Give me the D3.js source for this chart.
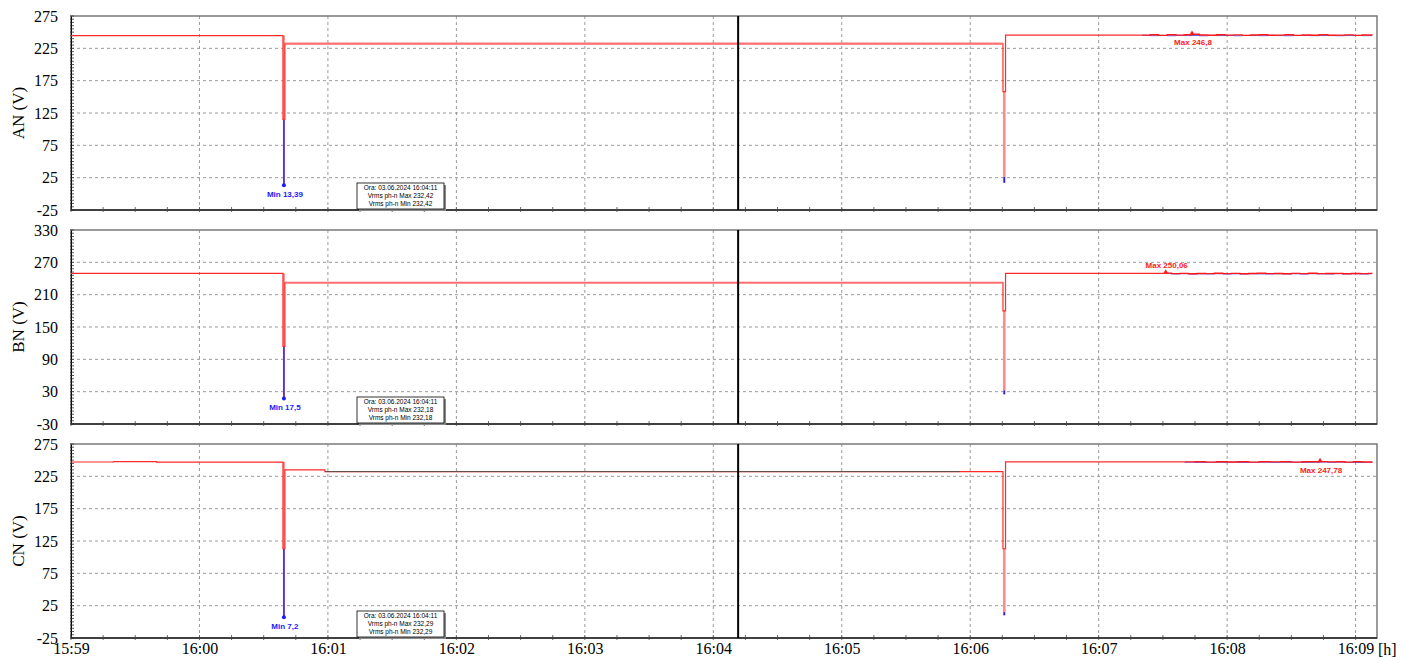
<!DOCTYPE html>
<html>
<head>
<meta charset="utf-8">
<script src="https://cdn.jsdelivr.net/npm/d3@7"></script>
<style>
  body { margin: 0; background: #fff; }
  svg { display: block; }
</style>
</head>
<body>
<div id="chart"></div>
<script>
// time is seconds after 15:59:00 on 03.06.2024
const startTime = new Date(2024, 5, 3, 15, 59, 0);
const endSec = 610;
const cursorSec = 311.6;

const channels = ["AN (V)", "BN (V)", "CN (V)"];
const yDomains = [[-25, 275], [-30, 330], [-25, 275]];
const yTicks = [
    [-25, 25, 75, 125, 175, 225, 275],
    [-30, 30, 90, 150, 210, 270, 330],
    [-25, 25, 75, 125, 175, 225, 275]
];
const yMinorStep = [5, 6, 5];

// main step trace per channel
const anTraceT = [0, 99.0, 99.9, 435.3, 436.5, 500];
const anTraceV = [244.6, 115, 232.42, 158, 245.3, 245.3];
const bnTraceT = [0, 99.0, 99.9, 435.3, 436.5, 511.3];
const bnTraceV = [249.6, 114, 232.18, 180, 249.6, 249.6];
const cnTraceT = [0, 20, 40, 99.0, 99.9, 118.6, 415.2, 435.3, 436.5, 520];
const cnTraceV = [247.2, 247.6, 247.1, 113, 235, 232.29, 232.3, 113, 247.3, 247.3];

// middle stretch drawn in another style
const anMidT = [99.9, 435.3];
const anMidV = [232.42, 232.42];
const bnMidT = [99.9, 435.3];
const bnMidV = [232.18, 232.18];
const cnMidT = [118.6, 415.2];
const cnMidV = [232.29, 232.29];

// noisy tail: max (red) and min (blue)
const anTailT = [500, 504, 508, 512, 516, 520, 523.6, 527, 531, 535, 539, 543, 547, 551, 555, 559, 563, 567, 571, 575, 579, 583, 587, 591, 595, 599, 603, 607.7];
const anTailMax = [245.4, 245.9, 245.1, 246.0, 245.5, 245.9, 246.8, 245.7, 245.2, 245.9, 245.4, 245.8, 245.0, 245.6, 246.0, 245.2, 245.5, 245.9, 245.1, 245.6, 245.3, 245.9, 245.2, 245.5, 245.8, 245.1, 245.6, 245.4];
const anTailMin = [245.0, 244.6, 244.9, 244.5, 245.0, 244.7, 244.9, 244.4, 244.9, 244.7, 245.0, 244.5, 244.8, 244.9, 244.6, 245.0, 244.7, 244.5, 244.9, 244.8, 244.6, 245.0, 244.7, 244.5, 244.8, 244.9, 244.6, 245.0];
const bnTailT = [511.3, 514, 518, 522, 526, 530, 534, 538, 542, 546, 550, 554, 558, 562, 566, 570, 574, 578, 582, 586, 590, 594, 598, 602, 606, 607.7];
const bnTailMax = [250.06, 249.0, 249.5, 248.8, 249.4, 249.0, 249.7, 249.1, 249.5, 248.8, 249.3, 249.7, 249.0, 249.4, 248.9, 249.5, 249.1, 249.7, 249.0, 249.3, 249.6, 248.9, 249.4, 249.1, 249.5, 249.3];
const bnTailMin = [249.5, 248.6, 248.9, 248.3, 248.8, 248.5, 248.9, 248.4, 248.8, 248.3, 248.8, 248.6, 248.4, 248.9, 248.5, 248.8, 248.3, 248.9, 248.6, 248.4, 248.8, 248.5, 248.8, 248.3, 248.8, 248.7];
const cnTailT = [520, 525, 530, 535, 540, 545, 550, 555, 560, 565, 570, 575, 579, 583.4, 587, 591, 595, 599, 603, 607.7];
const cnTailMax = [247.3, 247.6, 247.0, 247.5, 247.2, 247.6, 246.9, 247.5, 247.3, 247.6, 247.0, 247.5, 247.5, 247.78, 247.3, 247.6, 247.0, 247.5, 247.2, 247.4];
const cnTailMin = [246.9, 246.6, 246.8, 246.7, 246.9, 246.5, 246.7, 246.9, 246.6, 246.8, 246.9, 246.5, 246.8, 247.0, 246.6, 246.9, 246.7, 246.5, 246.8, 246.9];

// dips: t0, t1, top of band, avg, min
const anSpikes = [[99.0, 99.9, 244.6, 115, 13.39], [435.3, 436.5, 158, 26, 17]];
const bnSpikes = [[99.0, 99.9, 249.6, 114, 17.5], [435.3, 436.5, 180, 32, 25]];
const cnSpikes = [[99.0, 99.9, 247.2, 113, 7.2], [435.3, 436.5, 113, 15, 10]];

const minValues = [13.39, 17.5, 7.2];
const maxPoints = [[523.6, 246.8], [511.3, 250.06], [583.4, 247.78]];

const tipTime = "03.06.2024 16:04:11";
const tipMax = ["232,42", "232,18", "232,29"];
const tipMin = ["232,42", "232,18", "232,29"];

const sec = s => new Date(+startTime + s * 1000);
const pts = (T, V) => T.map((t, i) => ({ t: sec(t), v: V[i] }));

const panels = [
    { trace: pts(anTraceT, anTraceV), mid: pts(anMidT, anMidV), midColor: "#ff7474", midWidth: 2.2,
      tailMax: pts(anTailT, anTailMax), tailMin: pts(anTailT, anTailMin), spikes: anSpikes, maxBelow: true },
    { trace: pts(bnTraceT, bnTraceV), mid: pts(bnMidT, bnMidV), midColor: "#ff6a6a", midWidth: 1.8,
      tailMax: pts(bnTailT, bnTailMax), tailMin: pts(bnTailT, bnTailMin), spikes: bnSpikes, maxBelow: false },
    { trace: pts(cnTraceT, cnTraceV), mid: pts(cnMidT, cnMidV), midColor: "#555", midWidth: 1,
      tailMax: pts(cnTailT, cnTailMax), tailMin: pts(cnTailT, cnTailMin), spikes: cnSpikes, maxBelow: true }
];

const serif = "'Liberation Serif', 'Times New Roman', serif";
const sans = "'Liberation Sans', Arial, sans-serif";

const W = 1411, H = 660;
const left = 71, right = 1377;
const tops = [16, 230, 444];
const ph = 194;

const svg = d3.select("#chart").append("svg")
    .attr("width", W).attr("height", H);

const x = d3.scaleTime()
    .domain([startTime, sec(endSec)])
    .range([left, right]);

const minuteTicks = x.ticks(d3.timeMinute.every(1));
const quarterTicks = x.ticks(d3.timeSecond.every(15));

panels.forEach((p, i) => {
    const top = tops[i], bottom = top + ph;
    const y = d3.scaleLinear().domain(yDomains[i]).range([bottom, top]);
    const g = svg.append("g");

    // grid
    g.selectAll(".hg").data(yTicks[i].slice(1, -1)).enter().append("line")
        .attr("x1", left).attr("x2", right)
        .attr("y1", d => y(d)).attr("y2", d => y(d))
        .attr("stroke", "#9a9a9a").attr("stroke-dasharray", "3,3");
    g.selectAll(".vg").data(minuteTicks.filter(d => x(d) > left + 1)).enter().append("line")
        .attr("x1", d => x(d)).attr("x2", d => x(d))
        .attr("y1", top).attr("y2", bottom)
        .attr("stroke", "#9a9a9a").attr("stroke-dasharray", "3,3");

    // frame
    g.append("rect")
        .attr("x", left).attr("y", top).attr("width", right - left).attr("height", ph)
        .attr("fill", "none").attr("stroke", "#7a7a7a").attr("stroke-width", 1.5);

    // y axis
    const yAxis = d3.axisLeft(y).tickValues(yTicks[i]).tickSize(0).tickPadding(13)
        .tickFormat(d => String(d));
    const ya = g.append("g").attr("transform", `translate(${left},0)`).call(yAxis);
    ya.attr("font-family", null);
    ya.select(".domain").attr("stroke", "#000");
    ya.selectAll("text")
        .style("font-family", serif)
        .style("font-size", "16px").attr("fill", "#000");
    const minorY = d3.range(yDomains[i][0], yDomains[i][1] + 0.001, yMinorStep[i]);
    g.selectAll(".my").data(minorY).enter().append("line")
        .attr("x1", left - 1).attr("x2", left + 3)
        .attr("y1", d => y(d)).attr("y2", d => y(d))
        .attr("stroke", "#333").attr("stroke-width", 0.8);

    // bottom ticks
    g.append("line").attr("x1", left).attr("x2", right).attr("y1", bottom).attr("y2", bottom)
        .attr("stroke", "#222").attr("stroke-width", 1.5);
    g.selectAll(".mx").data(quarterTicks).enter().append("line")
        .attr("x1", d => x(d)).attr("x2", d => x(d))
        .attr("y1", bottom - 3).attr("y2", bottom + 2)
        .attr("stroke", "#444").attr("stroke-width", 0.8);

    // axis title
    g.append("text")
        .attr("transform", `translate(24,${top + ph / 2}) rotate(-90)`)
        .attr("text-anchor", "middle")
        .style("font-family", serif)
        .style("font-size", "17px")
        .text(channels[i]);

    // clip to plot area
    const clipId = "clip" + i;
    svg.append("clipPath").attr("id", clipId).append("rect")
        .attr("x", left).attr("y", top).attr("width", right - left).attr("height", ph);
    const plot = g.append("g").attr("clip-path", `url(#${clipId})`);

    // dip bands
    plot.selectAll(".band").data(p.spikes).enter().append("rect")
        .attr("x", d => x(sec(d[0])))
        .attr("width", d => x(sec(d[1])) - x(sec(d[0])))
        .attr("y", d => y(d[2]))
        .attr("height", d => y(d[4]) - y(d[2]))
        .attr("fill", "#ff8a8a");
    plot.selectAll(".bmin").data(p.spikes).enter().append("line")
        .attr("x1", d => x(sec((d[0] + d[1]) / 2))).attr("x2", d => x(sec((d[0] + d[1]) / 2)))
        .attr("y1", d => y(d[3])).attr("y2", d => y(d[4]))
        .attr("stroke", "#1a1aff").attr("stroke-width", 1.4);

    const line = d3.line().x(d => x(d.t)).y(d => y(d.v)).curve(d3.curveStepAfter);

    // tail min (blue) under max (red)
    plot.append("path").datum(p.tailMin).attr("d", line)
        .attr("fill", "none").attr("stroke", "#3030ff").attr("stroke-width", 0.8);
    plot.append("path").datum(p.tailMax).attr("d", line)
        .attr("fill", "none").attr("stroke", "#ff1a1a").attr("stroke-width", 1.4);

    // main trace
    plot.append("path").datum(p.trace).attr("d", line)
        .attr("fill", "none").attr("stroke", "#ff2a2a").attr("stroke-width", 1.2);
    plot.append("path").datum(p.mid).attr("d", d3.line().x(d => x(d.t)).y(d => y(d.v)))
        .attr("fill", "none").attr("stroke", p.midColor).attr("stroke-width", p.midWidth);

    // min marker + label
    const ms = p.spikes[0];
    const mx = x(sec((ms[0] + ms[1]) / 2));
    plot.append("circle").attr("cx", mx).attr("cy", y(minValues[i])).attr("r", 2)
        .attr("fill", "#1a1aff");
    g.append("text")
        .attr("x", mx + 1).attr("y", y(minValues[i]) + 12)
        .attr("text-anchor", "middle")
        .style("font-family", sans)
        .style("font-size", "8px").attr("font-weight", "bold").attr("fill", "#1a1aff")
        .text("Min " + String(minValues[i]).replace(".", ","));

    // max marker + label
    const mp = maxPoints[i];
    plot.append("path")
        .attr("transform", `translate(${x(sec(mp[0]))},${y(mp[1]) - 1})`)
        .attr("d", d3.symbol(d3.symbolTriangle, 10))
        .attr("fill", "#ff1a1a");
    g.append("text")
        .attr("x", x(sec(mp[0])) + 1)
        .attr("y", p.maxBelow ? y(mp[1]) + 11 : y(mp[1]) - 5)
        .attr("text-anchor", "middle")
        .style("font-family", sans)
        .style("font-size", "8px").attr("font-weight", "bold").attr("fill", "#ff1a1a")
        .text("Max " + String(mp[1]).replace(".", ","));

    // cursor
    g.append("line")
        .attr("x1", x(sec(cursorSec))).attr("x2", x(sec(cursorSec)))
        .attr("y1", top).attr("y2", bottom)
        .attr("stroke", "#000").attr("stroke-width", 2);

    // tooltip box
    const tip = g.append("g").attr("transform", `translate(357,${bottom - 27})`);
    tip.append("rect").attr("x", 2).attr("y", 2).attr("width", 87).attr("height", 26)
        .attr("fill", "#8a8a8a");
    tip.append("rect").attr("width", 87).attr("height", 26)
        .attr("fill", "#fff").attr("stroke", "#000").attr("stroke-width", 0.8);
    const tipLines = ["Ora: " + tipTime, "Vrms ph-n Max " + tipMax[i], "Vrms ph-n Min " + tipMin[i]];
    tip.selectAll("text").data(tipLines).enter().append("text")
        .attr("x", 43.5).attr("y", (d, k) => 7.2 + k * 8)
        .attr("text-anchor", "middle")
        .style("font-family", sans)
        .style("font-size", "6.5px").attr("fill", "#000")
        .text(d => d);

    // x labels on the last panel only
    if (i === panels.length - 1) {
        const xa = g.append("g").attr("transform", `translate(0,${bottom})`)
            .call(d3.axisBottom(x).tickValues(minuteTicks).tickSize(0).tickPadding(5)
                .tickFormat(d3.timeFormat("%H:%M")));
        xa.attr("font-family", null);
        xa.select(".domain").remove();
        xa.selectAll("text")
            .style("font-family", serif)
            .style("font-size", "16px").attr("fill", "#000");
        g.append("text")
            .attr("x", 1378).attr("y", bottom + 17)
            .style("font-family", serif)
            .style("font-size", "16px")
            .text("[h]");
    }
});
</script>
</body>
</html>
